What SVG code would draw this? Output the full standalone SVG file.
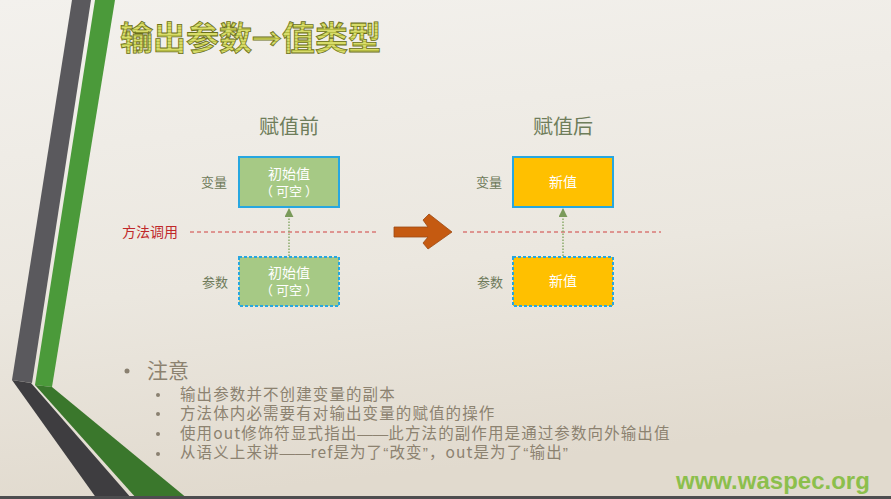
<svg xmlns="http://www.w3.org/2000/svg" width="891" height="499" viewBox="0 0 891 499">
  <defs>
    <linearGradient id="bg" x1="0" y1="0" x2="0.2" y2="1">
      <stop offset="0" stop-color="#f3f1ed"/>
      <stop offset="0.6" stop-color="#ebe7df"/>
      <stop offset="1" stop-color="#e1dace"/>
    </linearGradient>
    <pattern id="stripes" width="4" height="3" patternUnits="userSpaceOnUse">
      <rect width="4" height="3" fill="#d8dc6a"/>
      <rect y="2" width="4" height="1" fill="#b7bd42"/>
    </pattern>
    <marker id="arr" viewBox="0 0 10 10" refX="9" refY="5" markerWidth="6" markerHeight="6" orient="auto">
      <path d="M0,0 L10,5 L0,10 z" fill="#7a9a5a"/>
    </marker>
    <style>
      .cjk { font-family: "Noto Sans CJK SC", "Noto Sans", sans-serif; }
      .lat { font-family: "Liberation Sans", Arial, sans-serif; }
      .head { font-size: 20px; fill: #6e7d5a; text-anchor: middle; }
      .lbl { font-size: 13px; fill: #6e7a5a; text-anchor: middle; }
      .boxtxt { font-size: 14px; fill: #ffffff; text-anchor: middle; }
      .green { fill: #a6c985; stroke: #27a7e0; stroke-width: 2; }
      .orange { fill: #ffc000; stroke: #27a7e0; stroke-width: 2; }
      .dash { stroke-dasharray: 3 2; }
      .call { stroke: #d04040; stroke-width: 1; stroke-dasharray: 4 3; fill: none; }
      .link { stroke: #8aaa6a; stroke-width: 1.5; stroke-dasharray: 1.5 1.5; fill: none; }
      .note { font-size: 15.5px; letter-spacing: 1.1px; fill: #8c8270; }
      .bullet { fill: #8a8070; }
    </style>
  </defs>

  <rect width="891" height="499" fill="url(#bg)"/>

  <!-- decorative stripes -->
  <g id="stripes-deco">
    <polygon points="72,0 91,0 32,383 12,380" fill="#5a595d"/>
    <polygon points="12,380 31,383 132,499 97,499" fill="#3e3d40"/>
    <polygon points="95,0 115,0 52,387 35,385" fill="#4b9a3a"/>
    <polygon points="35,385 52,387 188,499 137,499" fill="#3a772c"/>
  </g>

  <!-- title -->
  <text x="120" y="50" class="cjk" font-size="33" font-weight="bold" fill="url(#stripes)" stroke="#6a6f1c" stroke-width="0.8">输出参数<tspan font-size="30">→</tspan>值类型</text>

  <!-- headings -->
  <text x="289" y="134" class="cjk head">赋值前</text>
  <text x="563" y="134" class="cjk head">赋值后</text>

  <!-- row labels -->
  <text x="214" y="187" class="cjk lbl">变量</text>
  <text x="215" y="287" class="cjk lbl">参数</text>
  <text x="489" y="187" class="cjk lbl">变量</text>
  <text x="490" y="287" class="cjk lbl">参数</text>
  <text x="150" y="237" class="cjk" font-size="14" fill="#c0282a" text-anchor="middle">方法调用</text>

  <!-- nodes -->
  <g id="before-var">
    <rect x="239" y="157" width="100" height="50" class="green"/>
    <text class="cjk boxtxt"><tspan x="289" y="179">初始值</tspan><tspan x="289" y="196" font-size="13">（ 可空 ）</tspan></text>
  </g>
  <g id="before-param">
    <rect x="239" y="257" width="100" height="49" class="green dash"/>
    <text class="cjk boxtxt"><tspan x="289" y="278">初始值</tspan><tspan x="289" y="295" font-size="13">（ 可空 ）</tspan></text>
  </g>
  <g id="after-var">
    <rect x="513" y="157" width="100" height="50" class="orange"/>
    <text x="563" y="187" class="cjk boxtxt">新值</text>
  </g>
  <g id="after-param">
    <rect x="513" y="257" width="100" height="49" class="orange dash"/>
    <text x="563" y="286" class="cjk boxtxt">新值</text>
  </g>

  <!-- connectors -->
  <g id="connectors">
    <line x1="190" y1="232" x2="376" y2="232" class="call"/>
    <line x1="463" y1="232" x2="661" y2="232" class="call"/>
    <line x1="289" y1="256" x2="289" y2="209" class="link" marker-end="url(#arr)"/>
    <line x1="563" y1="256" x2="563" y2="209" class="link" marker-end="url(#arr)"/>
    <polygon points="394,227 428,227 423,220 429,214 452,232 428,249 423,243 428,237 394,237" fill="#c55a11" stroke="#9c4a14" stroke-width="0.8"/>
  </g>

  <!-- notes -->
  <g id="notes">
    <circle cx="127" cy="371" r="2.5" class="bullet"/>
    <text x="147" y="378" class="cjk" font-size="21" fill="#8c8270">注意</text>
    <circle cx="158" cy="395" r="2" class="bullet"/>
    <circle cx="158" cy="414" r="2" class="bullet"/>
    <circle cx="158" cy="434" r="2" class="bullet"/>
    <circle cx="158" cy="454" r="2" class="bullet"/>
    <text class="cjk note"><tspan x="180" y="400">输出参数并不创建变量的副本</tspan><tspan x="180" y="419">方法体内必需要有对输出变量的赋值的操作</tspan><tspan x="180" y="439">使用out修饰符显式指出<tspan class="lat" letter-spacing="0">——</tspan>此方法的副作用是通过参数向外输出值</tspan><tspan x="180" y="458">从语义上来讲<tspan class="lat" letter-spacing="0">——</tspan>ref是为了<tspan class="lat">“</tspan>改变<tspan class="lat">”</tspan>，out是为了<tspan class="lat">“</tspan>输出<tspan class="lat">”</tspan></tspan></text>
  </g>

  <text x="676" y="489" font-family="'Liberation Sans', Arial, sans-serif" font-size="24" font-weight="bold" fill="#8cbf4c">www.waspec.org</text>

  <rect x="0" y="496" width="891" height="3" fill="#4d4d4f"/>
</svg>
